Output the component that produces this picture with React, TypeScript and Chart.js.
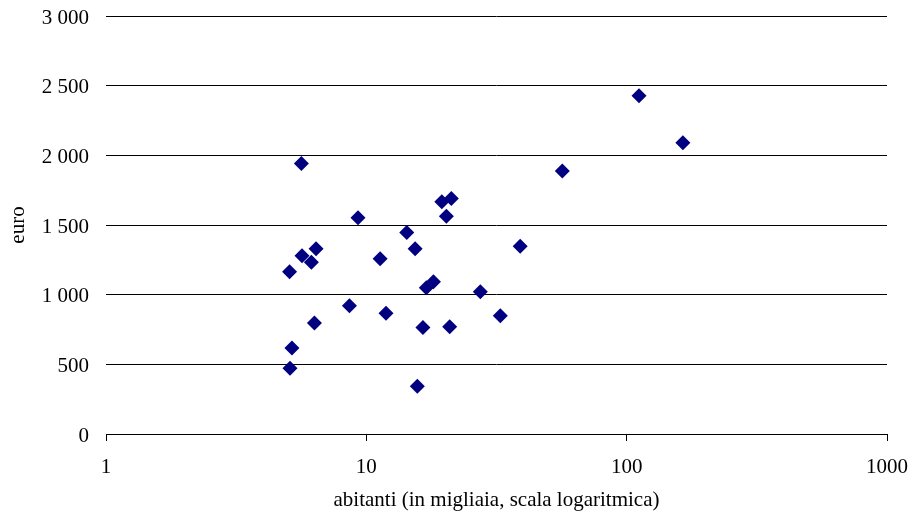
import React, { useEffect, useRef } from "react";
import { Chart, registerables } from "chart.js";

Chart.register(...registerables);

// abitanti (migliaia) and euro values
const inhabitants = [5.63, 9.29, 19.5, 21.2, 20.3, 14.3, 15.4, 6.41, 5.66, 6.15, 5.07, 11.3, 39.0, 56.6, 17.0, 18.1, 27.4, 8.61, 11.9, 32.7, 6.32, 16.5, 20.9, 5.18, 5.09, 15.7, 111.5, 164.4];
const euro = [1942, 1552, 1667, 1691, 1562, 1447, 1329, 1329, 1279, 1232, 1164, 1258, 1347, 1887, 1050, 1093, 1021, 920, 866, 849, 796, 765, 770, 617, 471, 342, 2427, 2090];
const xTickValues = [1, 10, 100, 1000];
const yTickValues = [0, 500, 1000, 1500, 2000, 2500, 3000];

const FONT = "'Liberation Serif', 'Times New Roman', serif";
const FS = 21;

function fmt(v: number): string {
  return String(Math.round(v)).replace(/\B(?=(\d{3})+(?!\d))/g, " ");
}

export default function App() {
  const ref = useRef<HTMLCanvasElement | null>(null);
  useEffect(() => {
    if (!ref.current) return;
    const points = inhabitants.map((x, i) => ({ x, y: euro[i] }));
    const chart = new Chart(ref.current, {
      type: "scatter",
      data: {
        datasets: [
          {
            data: points,
            pointStyle: "rectRot",
            pointRadius: 7.5,
            pointHoverRadius: 7.5,
            backgroundColor: "#000080",
            borderColor: "#000080",
            borderWidth: 0,
          },
        ],
      },
      options: {
        animation: false,
        responsive: true,
        maintainAspectRatio: false,
        layout: { padding: { left: 0, top: 16, right: 23, bottom: 0 } },
        plugins: { legend: { display: false }, tooltip: { enabled: false } },
        scales: {
          x: {
            type: "logarithmic",
            min: 1,
            max: 1000,
            afterBuildTicks: (scale: any) => {
              scale.ticks = xTickValues.map((v) => ({ value: v }));
            },
            afterFit: (scale: any) => {
              scale.height = 82;
              scale.paddingLeft = 0;
              scale.paddingRight = 0;
            },
            ticks: {
              autoSkip: false,
              maxRotation: 0,
              color: "#000",
              font: { family: FONT, size: FS },
              padding: 14,
              callback: (v: any) => String(v),
            },
            grid: {
              display: true,
              drawOnChartArea: false,
              drawTicks: true,
              tickLength: 7,
              color: "#000",
              lineWidth: 1,
            },
            border: { display: true, color: "#000", width: 1 },
            title: {
              display: true,
              text: "abitanti (in migliaia, scala logaritmica)",
              color: "#000",
              font: { family: FONT, size: FS },
              padding: { top: 0, bottom: 3 },
            },
          },
          y: {
            type: "linear",
            min: 0,
            max: 3000,
            afterBuildTicks: (scale: any) => {
              scale.ticks = yTickValues.map((v) => ({ value: v }));
            },
            afterFit: (scale: any) => {
              scale.width = 106;
              scale.paddingTop = 0;
              scale.paddingBottom = 0;
            },
            ticks: {
              color: "#000",
              font: { family: FONT, size: FS },
              padding: 17,
              labelOffset: 2,
              callback: (v: any) => fmt(Number(v)),
            },
            grid: {
              display: true,
              drawTicks: false,
              color: "#000",
              lineWidth: 1,
            },
            border: { display: false },
            title: {
              display: true,
              text: "euro",
              color: "#000",
              font: { family: FONT, size: FS },
              padding: { top: 6, bottom: 0 },
            },
          },
        },
      },
    });
    return () => chart.destroy();
  }, []);
  return (
    <div style={{ position: "fixed", left: 0, top: 0, width: 910, height: 516, background: "#fff" }}>
      <canvas ref={ref} />
    </div>
  );
}
